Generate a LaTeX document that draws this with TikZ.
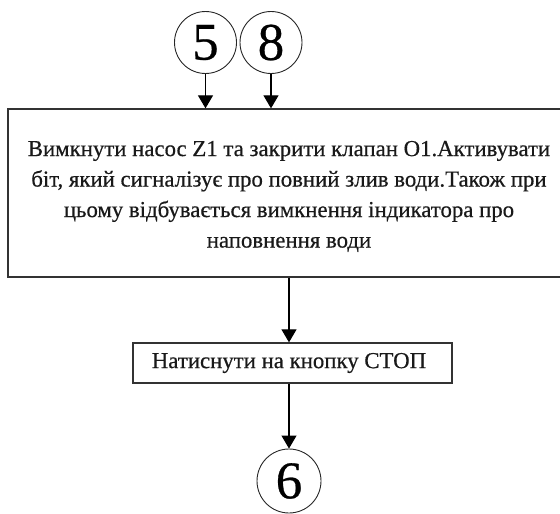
\documentclass[tikz,border=0pt]{standalone}
\usepackage{fontspec}
\setmainfont{Liberation Serif}[FakeBold=0.5]
\usetikzlibrary{arrows.meta}
\begin{document}
\begin{tikzpicture}[x=1pt,y=-1pt,
  conn/.style={draw=black,line width=1.1pt,-{Triangle[width=15pt,length=13pt]}},
  procbox/.style={draw=black!80,line width=1.3pt,rectangle,inner sep=0pt,align=center,
    text=black!90,font=\fontsize{22.8}{30.5}\selectfont},
  onpage/.style={draw=black!85,line width=0.9pt,circle,inner sep=0pt,minimum size=62pt,
    font=\fontsize{53}{53}\selectfont}]
  \useasboundingbox (0,0) rectangle (560,514);

  % off-page connectors
  \node[onpage] (c5) at (205.5,42.5) {5};
  \node[onpage] (c8) at (271,42.5) {8};

  % step: stop pump, close valve, signal drain
  \node[procbox,minimum width=562pt,minimum height=168pt] (drain) at (289,193)
    {\rule{0pt}{22pt}Вимкнути насос Z1 та закрити клапан O1.Активувати\\
     біт, який сигналізує про повний злив води.Також при\\
     цьому відбувається вимкнення індикатора про\\
     наповнення води};

  % step: press STOP
  \node[procbox,minimum width=319pt,minimum height=40pt] (stop) at (292.5,363)
    {\hspace*{-7pt}Натиснути на кнопку СТОП};

  \node[onpage,minimum size=64pt] (c6) at (289,481) {6};

  \draw[conn] (c5.south) -- (c5.south |- drain.north);
  \draw[conn] (c8.south) -- (c8.south |- drain.north);
  \draw[conn] (drain.south) -- (drain.south |- stop.north);
  \draw[conn] (drain.south |- stop.south) -- (c6.north);
\end{tikzpicture}
\end{document}
